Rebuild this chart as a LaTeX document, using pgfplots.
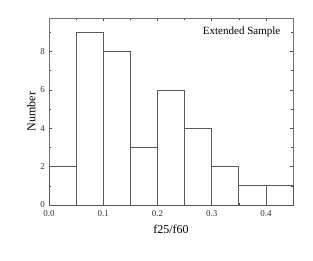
\documentclass[border=0pt]{standalone}
\usepackage{pgfplots}
\pgfplotsset{compat=1.18}
\usepackage{fontspec}
\setmainfont{Liberation Serif}
\begin{document}
\begin{tikzpicture}[x=1pt,y=1pt]
\path[use as bounding box] (0,0) rectangle (313,260);
\begin{axis}[
  at={(49pt,55pt)}, anchor=south west,
  scale only axis, width=244pt, height=187pt,
  xmin=0, xmax=0.45, ymin=0, ymax=9.75,
  xtick={0,0.1,0.2,0.3,0.4},
  minor xtick={0.05,0.15,0.25,0.35,0.45},
  ytick={0,2,4,6,8},
  minor ytick={1,3,5,7,9},
  xticklabel style={/pgf/number format/fixed,/pgf/number format/precision=1,/pgf/number format/fixed zerofill, yshift=-1.5pt},
  yticklabel style={xshift=-0.5pt},
  /pgf/number format/assume math mode=true,
  tick label style={font=\fontsize{9}{10}\selectfont, text=black!80},
  tick align=inside,
  major tick length=3pt, minor tick length=2pt,
  tick style={black!70, line width=0.5pt},
  axis line style={black!55, line width=0.8pt},
  xlabel={f25/f60}, ylabel={Number},
  label style={font=\fontsize{12}{13}\selectfont},
  xlabel style={yshift=-2pt},
  ylabel style={yshift=-2pt},
  clip=false,
]
\addplot[ybar interval, draw=black!65, line width=0.7pt, fill=none]
  coordinates {(0,2) (0.05,9) (0.1,8) (0.15,3) (0.2,6) (0.25,4) (0.3,2) (0.35,1) (0.4,1) (0.45,1)};
\node[font=\fontsize{11}{12}\selectfont, anchor=east] at (axis cs:0.433,9.05) {Extended Sample};
\end{axis}
\end{tikzpicture}
\end{document}
